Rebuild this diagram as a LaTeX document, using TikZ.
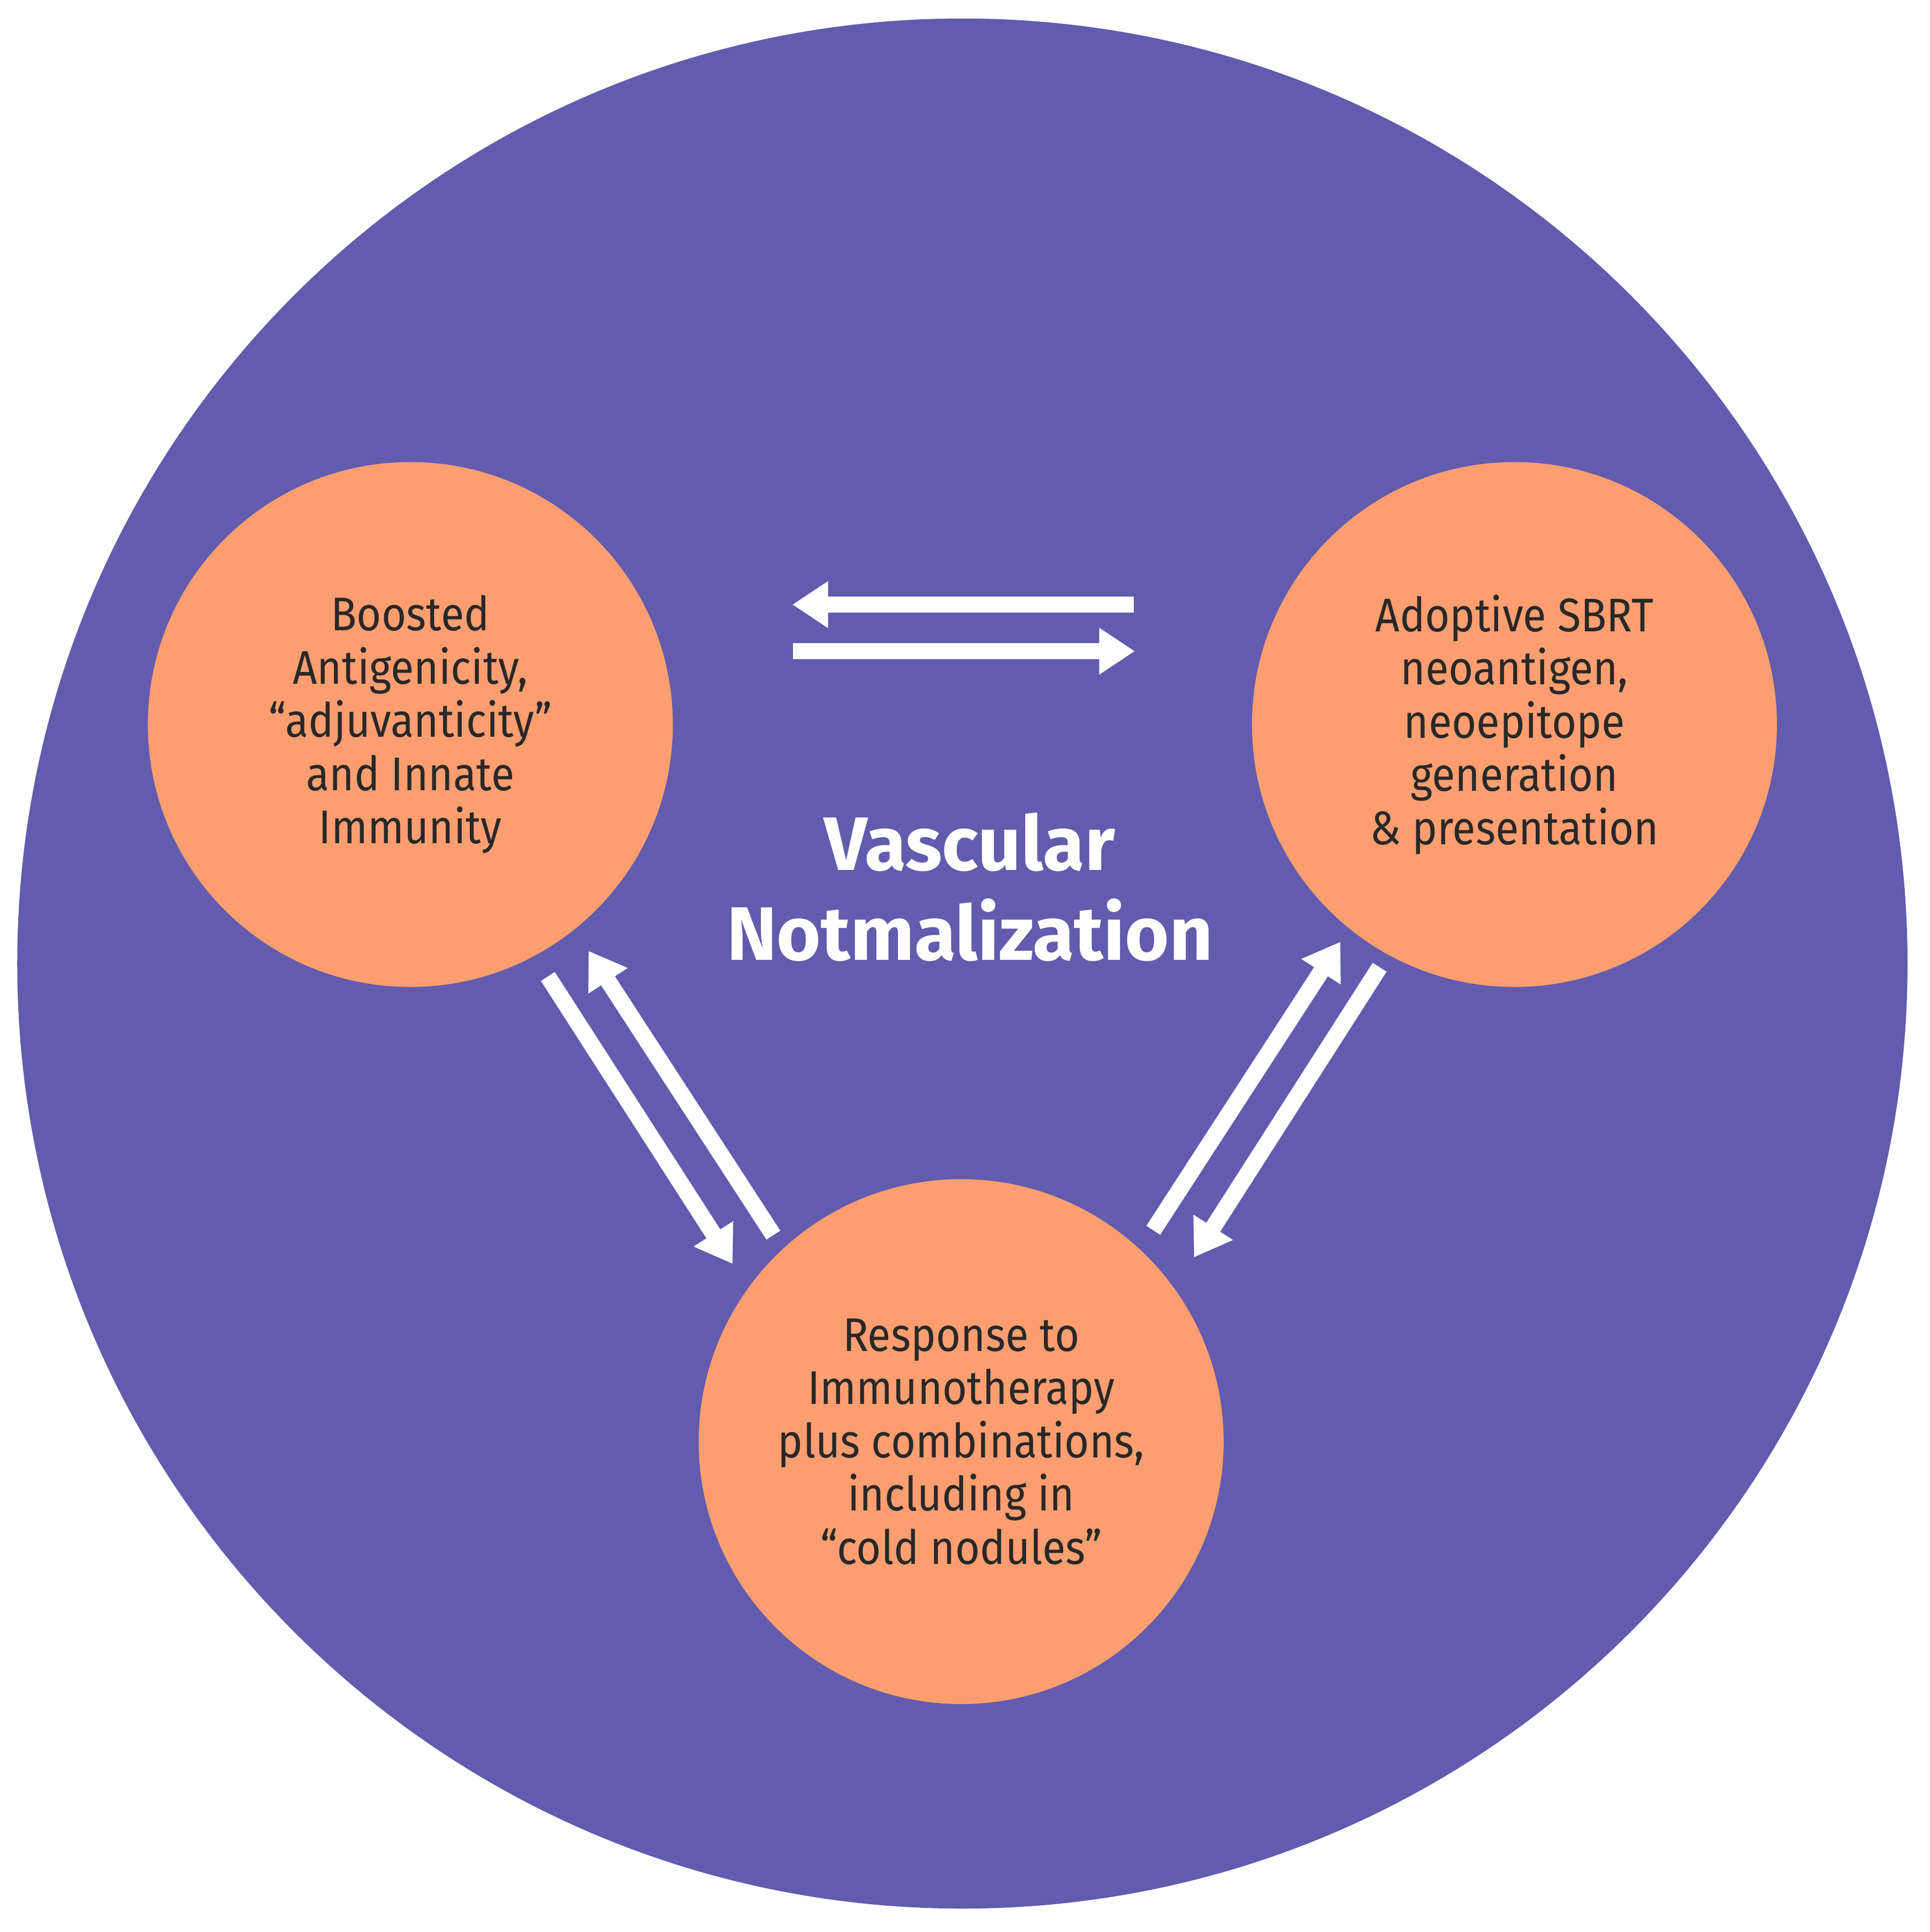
\documentclass[tikz,border=0pt]{standalone}
\usepackage{fontspec}
\setmainfont{Fira Sans}[FakeStretch=0.9]
\newfontfamily\titlefont{Fira Sans}
\usepackage{tikz}
\usetikzlibrary{arrows.meta}
\definecolor{vnpurple}{RGB}{99,91,174}
\definecolor{vnorange}{RGB}{252,158,112}
\definecolor{vntext}{RGB}{40,40,40}

\begin{document}
\begin{tikzpicture}[
  hub/.style={circle, fill=vnorange, minimum size=4.26cm, inner sep=0pt, align=center, text=vntext, font=\fontsize{10.9}{12.3}\selectfont},
  flow/.style={white, line width=3.8pt, -{Triangle[length=0.29cm, width=0.36cm]}}
]
  \useasboundingbox (0,0) rectangle (15.66,-15.68);
  \node[circle, fill=vnpurple, minimum size=15.34cm, inner sep=0pt] (field) at (7.81,-7.82) {};

  \node[hub] (antigen) at (3.33,-5.88) {Boosted\\Antigenicity,\\“adjuvanticity”\\and Innate\\Immunity};
  \node[hub] (sbrt) at (12.29,-5.88) {Adoptive SBRT\\neoantigen,\\neoepitope\\generation\\\& presentation};
  \node[hub] (immuno) at (7.80,-11.70) {Response to\\Immunotherapy\\plus combinations,\\including in\\“cold nodules”};

  \node[text=white, align=center, font=\titlefont\fontsize{17.5}{20.7}\selectfont\bfseries] (title) at (7.87,-7.2) {Vascular\\Notmalization};

  % arrow ends
  \coordinate (topA) at (9.20,-4.907);
  \coordinate (topB) at (6.43,-4.907);
  \coordinate (topC) at (6.436,-5.285);
  \coordinate (topD) at (9.21,-5.285);
  \coordinate (leftA) at (4.446,-7.925);
  \coordinate (leftB) at (5.946,-10.258);
  \coordinate (leftC) at (6.276,-10.024);
  \coordinate (leftD) at (4.776,-7.717);
  \coordinate (rightA) at (9.359,-9.985);
  \coordinate (rightB) at (10.878,-7.643);
  \coordinate (rightC) at (11.196,-7.85);
  \coordinate (rightD) at (9.689,-10.205);

  \draw[flow] (topA) -- (topB);
  \draw[flow] (topC) -- (topD);
  \draw[flow] (leftA) -- (leftB);
  \draw[flow] (leftC) -- (leftD);
  \draw[flow] (rightA) -- (rightB);
  \draw[flow] (rightC) -- (rightD);
\end{tikzpicture}
\end{document}
